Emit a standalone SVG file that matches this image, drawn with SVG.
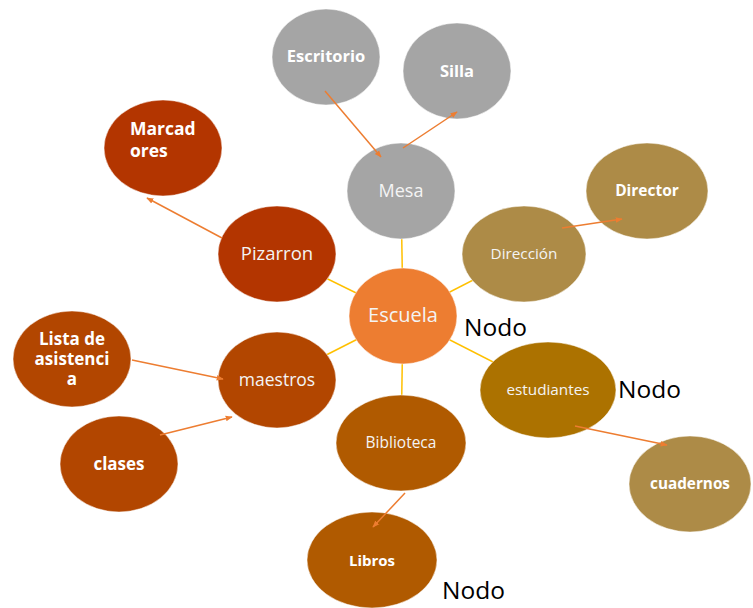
<svg xmlns="http://www.w3.org/2000/svg" width="753" height="608" viewBox="0 0 753 608">
<defs>
<marker id="ah" viewBox="0 0 10 10" refX="9" refY="5" markerWidth="7" markerHeight="7" markerUnits="userSpaceOnUse" orient="auto">
<path d="M0,1 L10,5 L0,9 Z" fill="#ED7D31"/>
</marker>
</defs>
<style>
.n{stroke:#ffffff;stroke-opacity:0.5;stroke-width:1}
.t{font-family:"Open Sans","Liberation Sans",sans-serif;fill:#f4f4f4;text-anchor:middle}
.b{font-weight:bold;fill:#ffffff}
.lk{stroke:#FFC000;stroke-width:1.5;fill:none}
.ar{stroke:#ED7D31;stroke-width:1.5;fill:none;marker-end:url(#ah)}
.nodo{font-family:"Open Sans","Liberation Sans",sans-serif;font-size:24.5px;fill:#000000}
.gray{fill:#A5A5A5}
.red{fill:#B33500}
.rust{fill:#B24600}
.brown{fill:#B05A00}
.ochre{fill:#AC7200}
.tan{fill:#AD8B47}
.org{fill:#ED7D31}
</style>
<rect width="753" height="608" fill="#ffffff"/>
<g id="links">
<line class="lk" x1="401" y1="191" x2="403" y2="316"/>
<line class="lk" x1="277" y1="254" x2="403" y2="316"/>
<line class="lk" x1="524" y1="254" x2="403" y2="316"/>
<line class="lk" x1="277" y1="380" x2="403" y2="316"/>
<line class="lk" x1="548" y1="390" x2="403" y2="316"/>
<line class="lk" x1="401" y1="443" x2="403" y2="316"/>
</g>
<g id="escritorio"><ellipse class="n gray" cx="326" cy="57" rx="54" ry="48"/><text class="t b" x="326" y="62" font-size="16.5">Escritorio</text></g>
<g id="silla"><ellipse class="n gray" cx="457" cy="71" rx="54" ry="48"/><text class="t b" x="457" y="77" font-size="16.5">Silla</text></g>
<g id="mesa"><ellipse class="n gray" cx="401" cy="191" rx="54" ry="48"/><text class="t" x="401" y="197" font-size="18">Mesa</text></g>
<g id="marcadores"><ellipse class="n red" cx="163" cy="148" rx="59" ry="48"/><text class="t b" x="130" y="135" font-size="17.5" text-anchor="start" style="text-anchor:start">Marcad</text><text class="t b" x="130" y="157" font-size="17.5" style="text-anchor:start">ores</text></g>
<g id="pizarron"><ellipse class="n red" cx="277" cy="254" rx="59" ry="48"/><text class="t" x="277" y="260" font-size="18.5">Pizarron</text></g>
<g id="direccion"><ellipse class="n tan" cx="524" cy="254" rx="62" ry="48"/><text class="t" x="524" y="259" font-size="15.3">Dirección</text></g>
<g id="director"><ellipse class="n tan" cx="647" cy="191" rx="61" ry="48"/><text class="t b" x="647" y="196" font-size="15.5">Director</text></g>
<g id="escuela"><ellipse class="n org" cx="403" cy="316" rx="54" ry="48"/><text class="t" x="403" y="322" font-size="20">Escuela</text></g>
<g id="lista"><ellipse class="n rust" cx="72" cy="359" rx="59" ry="48"/><text class="t b" x="72" y="345" font-size="17">Lista de</text><text class="t b" x="72" y="365" font-size="17">asistenci</text><text class="t b" x="72" y="385" font-size="17">a</text></g>
<g id="maestros"><ellipse class="n rust" cx="277" cy="380" rx="59" ry="48"/><text class="t" x="277" y="386" font-size="17.5">maestros</text></g>
<g id="clases"><ellipse class="n rust" cx="119" cy="464" rx="59" ry="48"/><text class="t b" x="119" y="470" font-size="17">clases</text></g>
<g id="estudiantes"><ellipse class="n ochre" cx="548" cy="390" rx="68" ry="48"/><text class="t" x="548" y="395" font-size="15.3">estudiantes</text></g>
<g id="biblioteca"><ellipse class="n brown" cx="401" cy="443" rx="65" ry="48"/><text class="t" x="401" y="448" font-size="15.5">Biblioteca</text></g>
<g id="libros"><ellipse class="n brown" cx="372" cy="560" rx="65" ry="48"/><text class="t b" x="372" y="566" font-size="15">Libros</text></g>
<g id="cuadernos"><ellipse class="n tan" cx="690" cy="484" rx="61" ry="48"/><text class="t b" x="690" y="489" font-size="15.3">cuadernos</text></g>
<g id="connectors">
<line class="ar" x1="325" y1="91" x2="381" y2="157"/>
<line class="ar" x1="403" y1="148" x2="457" y2="112"/>
<line class="ar" x1="222" y1="238" x2="147" y2="198"/>
<line class="ar" x1="562" y1="228" x2="622" y2="219"/>
<line class="ar" x1="132" y1="360" x2="223" y2="379"/>
<line class="ar" x1="160" y1="435" x2="232" y2="417"/>
<line class="ar" x1="405" y1="493" x2="373" y2="527"/>
<line class="ar" x1="575" y1="426" x2="667" y2="445"/>
</g>
<g id="labels">
<text class="nodo" x="464" y="336">Nodo</text>
<text class="nodo" x="618" y="398">Nodo</text>
<text class="nodo" x="442" y="599">Nodo</text>
</g>
</svg>
